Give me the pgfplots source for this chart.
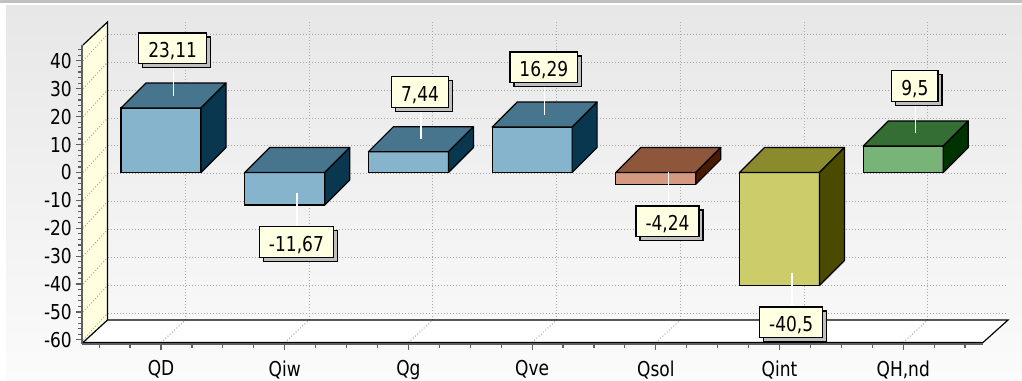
\documentclass[border=0pt]{standalone}
\usepackage{pgfplots}
\pgfplotsset{compat=1.18}
\usepackage{pgfplotstable}
\usepackage{fontspec}
\setmainfont{DejaVu Sans}[FakeStretch=0.83]
\usetikzlibrary{shadows}

\definecolor{bgtop}{HTML}{E7E7E7}
\definecolor{bgbot}{HTML}{FBFBFB}
\definecolor{bandc}{HTML}{C0C0C0}
\definecolor{wallc}{HTML}{FFFFE0}
\definecolor{gridc}{HTML}{A8A8A8}
\definecolor{axisc}{HTML}{5F5F5F}
\definecolor{lblfill}{HTML}{FFFFE1}
\definecolor{bfront}{HTML}{86B4CC}
\definecolor{btop}{HTML}{48758E}
\definecolor{bside}{HTML}{0A3750}
\definecolor{sfront}{HTML}{D4997E}
\definecolor{stop}{HTML}{8E573C}
\definecolor{sside}{HTML}{4A1A00}
\definecolor{ifront}{HTML}{CCCC6A}
\definecolor{itop}{HTML}{8B8B2D}
\definecolor{iside}{HTML}{4B4B00}
\definecolor{hfront}{HTML}{78B478}
\definecolor{htop}{HTML}{356E35}
\definecolor{hside}{HTML}{003300}

\newcommand\lblfont{\fontsize{20.5pt}{24pt}\selectfont}

\pgfplotstableread{
x y
0 23.11
1 -11.67
2 7.44
3 16.29
4 -4.24
5 -40.5
6 9.5
}\bardata

\tikzset{lbl/.style={draw=black, line width=1.2pt, fill=lblfill, font=\lblfont,
  inner xsep=9.5pt, inner ysep=5pt, text height=19.5pt, text depth=1pt,
  general shadow={fill=black!25, shadow xshift=4pt, shadow yshift=-4pt}}}

% 3D top face, side face, connector and value label of one bar
\newcommand\boxmark[2]{%
  \pgfkeys{/pgf/fpu=true,/pgf/fpu/output format=fixed}%
  \pgfmathparse{\val}%
  \pgfkeys{/pgf/fpu=false}%
  \let\bxV\pgfmathresult
  \pgfmathsetmacro\bxH{-(\bxV)*2.79}%
  \pgfmathsetmacro\bxT{max(0,\bxH)}%
  \pgfmathsetmacro\bxB{min(0,\bxH)}%
  \filldraw[fill=#1, draw=black, line width=1.2pt, line join=round]
    (-40pt,\bxT pt) -- (40pt,\bxT pt) -- (65pt,\bxT pt+25pt) -- (-15pt,\bxT pt+25pt) -- cycle;
  \filldraw[fill=#2, draw=black, line width=1.2pt, line join=round]
    (40pt,\bxB pt) -- (40pt,\bxT pt) -- (65pt,\bxT pt+25pt) -- (65pt,\bxB pt+25pt) -- cycle;
  \ifdim\bxV pt<0pt
    \draw[white, line width=1.5pt] (12.5pt,12.5pt) -- (12.5pt,-21pt);
    \node[lbl, anchor=north] at (11.7pt,-21pt)
      {\pgfmathprintnumber[use comma, assume math mode=true, precision=2]{\bxV}};
  \else
    \draw[white, line width=1.5pt] (12.5pt,12.5pt) -- (12.5pt,44pt);
    \node[lbl, anchor=south] at (11.7pt,44pt)
      {\pgfmathprintnumber[use comma, assume math mode=true, precision=2]{\bxV}};
  \fi
}
\pgfdeclareplotmark{boxB}{\boxmark{btop}{bside}}
\pgfdeclareplotmark{boxS}{\boxmark{stop}{sside}}
\pgfdeclareplotmark{boxI}{\boxmark{itop}{iside}}
\pgfdeclareplotmark{boxH}{\boxmark{htop}{hside}}

\pgfplotsset{
  front/.style={ybar, bar width=80pt, bar shift=0pt, fill=#1, draw=black, line width=1.2pt},
  faces/.style={scatter, only marks, mark=#1,
    scatter/@pre marker code/.code={}, scatter/@post marker code/.code={},
    visualization depends on={y \as \val}},
}

\begin{document}
\begin{tikzpicture}
\useasboundingbox (0pt,0pt) rectangle (1022pt,380pt);
\fill[white] (0pt,0pt) rectangle (1022pt,380pt);
\shade[top color=bgtop, bottom color=bgbot] (6pt,0pt) rectangle (1022pt,374pt);
\fill[bandc] (0pt,376.5pt) rectangle (1022pt,380pt);

\begin{scope}[x=1pt, y=1pt]
  % left wall
  \fill[wallc] (83,335) -- (107.5,358) -- (107.5,60) -- (83,37.5) -- cycle;
  % floor
  \fill[white] (83,37.5) -- (983,37.5) -- (1008,60) -- (107.5,60) -- cycle;
  % back wall grid
  \foreach \v in {-60,-50,...,40} {
    \pgfmathsetmacro\yf{207.5+2.79*\v}
    \pgfmathsetmacro\yb{\yf+26.5}
    \draw[gridc, line width=1pt, dash pattern=on 1pt off 2pt] (107.5,\yb) -- (1007,\yb);
    \draw[gridc, line width=1pt, dash pattern=on 1pt off 2pt] (83,\yf) -- (107.5,\yb);
  }
  \foreach \i in {0,...,6} {
    \pgfmathsetmacro\xf{161+123.7*\i}
    \draw[gridc, line width=1pt, dash pattern=on 1pt off 2pt] (\xf+24.5,60) -- (\xf+24.5,358);
    \draw[gridc, line width=1pt, dash pattern=on 1pt off 2pt] (\xf,37.5) -- (\xf+24.5,60);
  }
  % wall and floor outlines
  \draw[black, line width=1.2pt] (83,335) -- (107.5,358) -- (107.5,60) -- (83,37.5);
  \draw[black, line width=1.2pt] (107.5,60) -- (1008,60) -- (983,37.5) -- (83,37.5);
\end{scope}

\begin{axis}[
  at={(82pt,36pt)}, anchor=south west,
  x=123.7pt, y=2.79pt,
  xmin=-0.6387, xmax=6.6451, ymin=-61.47, ymax=45.70,
  enlargelimits=false,
  clip=false, axis on top,
  axis x line*=bottom, axis y line*=left,
  axis line style={axisc, line width=2.5pt},
  xtick={0,...,6}, xticklabels={QD,Qiw,Qg,Qve,Qsol,Qint,{QH,nd}},
  minor xtick={-0.5,-0.25,...,6.5},
  ytick={-60,-50,...,40}, minor ytick={-60,-58,...,44},
  tick align=outside,
  major tick length=6pt, minor tick length=3.5pt,
  tick style={axisc, line width=1.2pt},
  tick label style={font=\lblfont},
  /pgf/number format/assume math mode=true,
  scaled y ticks=false,
  yticklabel style={anchor=east, inner sep=0pt, xshift=-4pt},
  xticklabel style={anchor=north, inner sep=0pt, yshift=-10.5pt},
]
\addplot[front=bfront, restrict x to domain=-0.1:0.1] table[x=x,y=y]{\bardata};
\addplot[faces=boxB, restrict x to domain=-0.1:0.1] table[x=x,y=y]{\bardata};
\addplot[front=bfront, restrict x to domain=0.9:1.1] table[x=x,y=y]{\bardata};
\addplot[faces=boxB, restrict x to domain=0.9:1.1] table[x=x,y=y]{\bardata};
\addplot[front=bfront, restrict x to domain=1.9:2.1] table[x=x,y=y]{\bardata};
\addplot[faces=boxB, restrict x to domain=1.9:2.1] table[x=x,y=y]{\bardata};
\addplot[front=bfront, restrict x to domain=2.9:3.1] table[x=x,y=y]{\bardata};
\addplot[faces=boxB, restrict x to domain=2.9:3.1] table[x=x,y=y]{\bardata};
\addplot[front=sfront, restrict x to domain=3.9:4.1] table[x=x,y=y]{\bardata};
\addplot[faces=boxS, restrict x to domain=3.9:4.1] table[x=x,y=y]{\bardata};
\addplot[front=ifront, restrict x to domain=4.9:5.1] table[x=x,y=y]{\bardata};
\addplot[faces=boxI, restrict x to domain=4.9:5.1] table[x=x,y=y]{\bardata};
\addplot[front=hfront, restrict x to domain=5.9:6.1] table[x=x,y=y]{\bardata};
\addplot[faces=boxH, restrict x to domain=5.9:6.1] table[x=x,y=y]{\bardata};
\end{axis}
\end{tikzpicture}
\end{document}
